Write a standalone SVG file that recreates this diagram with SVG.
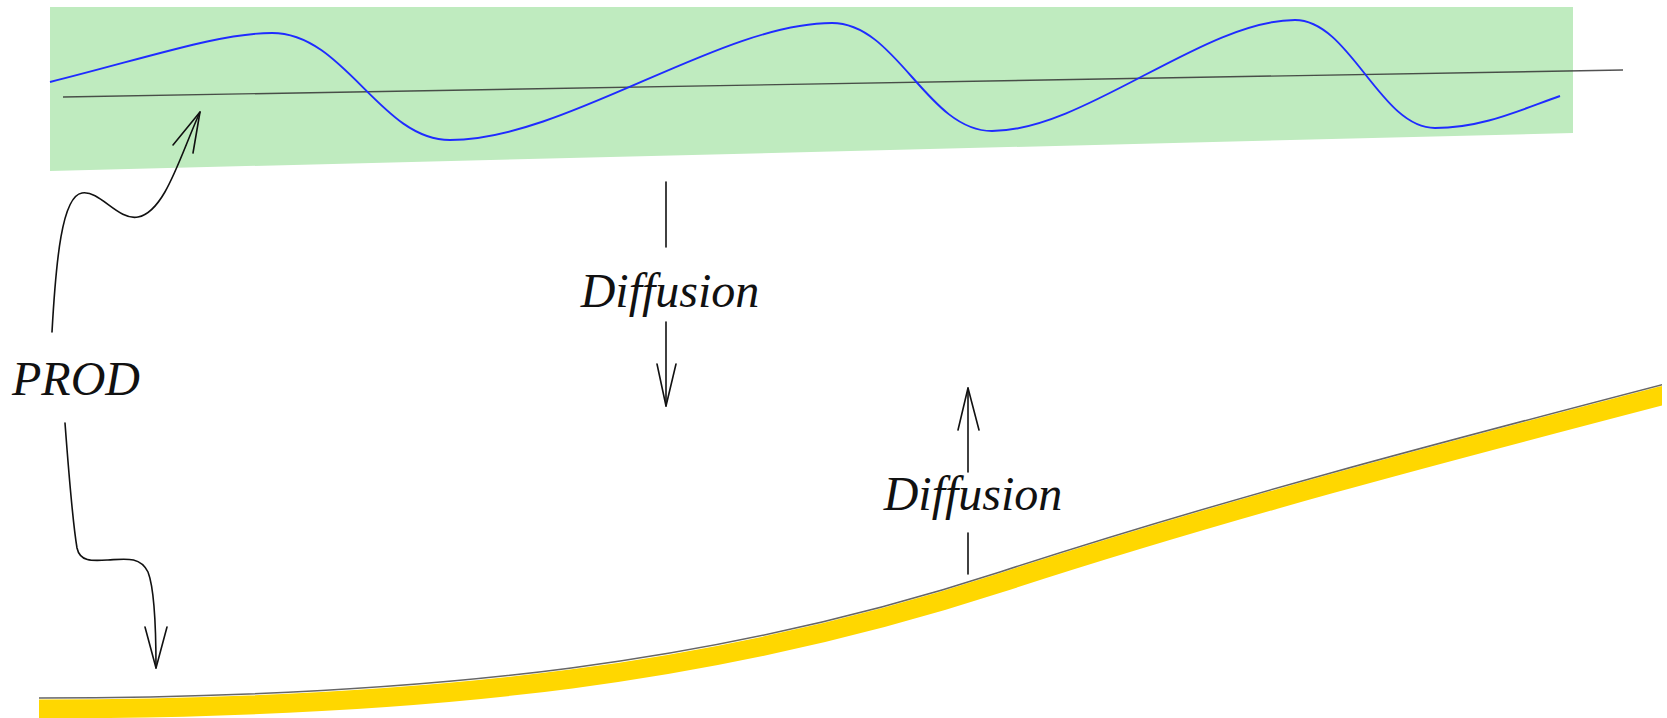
<svg xmlns="http://www.w3.org/2000/svg" width="1667" height="718" viewBox="0 0 1667 718">
<style>
.lbl{font-family:"Liberation Serif","Times New Roman",serif;font-style:italic;font-size:48px;fill:#111}
.arr{fill:none;stroke:#111;stroke-width:1.6;stroke-linecap:round;stroke-linejoin:round}
</style>
<defs>
<clipPath id="bandclip"><rect x="39" y="300" width="1623" height="418"/></clipPath>
</defs>
<g id="zone-top">
<polygon points="50,7 1573,7 1573,133 50,171" fill="#bfebbf"/>
<path d="M63,97 L1623,70" stroke="#333" stroke-opacity="0.85" stroke-width="1.4" fill="none"/>
<path d="M50,82 C150,57 220,33 272,33 C345,33 380,140 450,140 C565,140 720,23 832,23 C897,23 927,131 992,131 C1084,131 1204,20 1295,20 C1350,20 1380,128 1435,128 C1482,128 1520,110 1560,96" fill="none" stroke="#1f2bff" stroke-width="1.9"/>
</g>
<g id="surface" clip-path="url(#bandclip)">
<path d="M30,698 C450,698 730,660 1000,572 C1230,497 1450,440 1680,380" transform="translate(0,11)" fill="none" stroke="#ffd700" stroke-width="19"/>
<path d="M30,698 C450,698 730,660 1000,572 C1230,497 1450,440 1680,380" fill="none" stroke="#666" stroke-width="1.5"/>
</g>
<g id="label-prod"><text class="lbl" x="12" y="395">PROD</text></g>
<g id="label-diff-down"><text class="lbl" x="670" y="307" text-anchor="middle">Diffusion</text></g>
<g id="label-diff-up"><text class="lbl" x="973" y="510" text-anchor="middle">Diffusion</text></g>
<g id="connectors">
<path class="arr" d="M52,332 C56,260 62,196 82,193 C100,190 118,221 138,217 C165,212 180,156 200,112"/>
<polyline class="arr" points="173,145 200,112 193,153"/>
<path class="arr" d="M65,423 C70,490 74,530 77,548 C80,562 92,561 108,560 C125,559 140,556 148,572 C155,590 156,630 156,668"/>
<polyline class="arr" points="145,627 156,668 167,627"/>
<line class="arr" x1="666" y1="182" x2="666" y2="247"/>
<line class="arr" x1="666" y1="322" x2="666" y2="406"/>
<polyline class="arr" points="657,364 666,406 676,364"/>
<line class="arr" x1="968" y1="388" x2="968" y2="472"/>
<polyline class="arr" points="958,430 968,388 979,430"/>
<line class="arr" x1="968" y1="533" x2="968" y2="574"/>
</g>
</svg>
